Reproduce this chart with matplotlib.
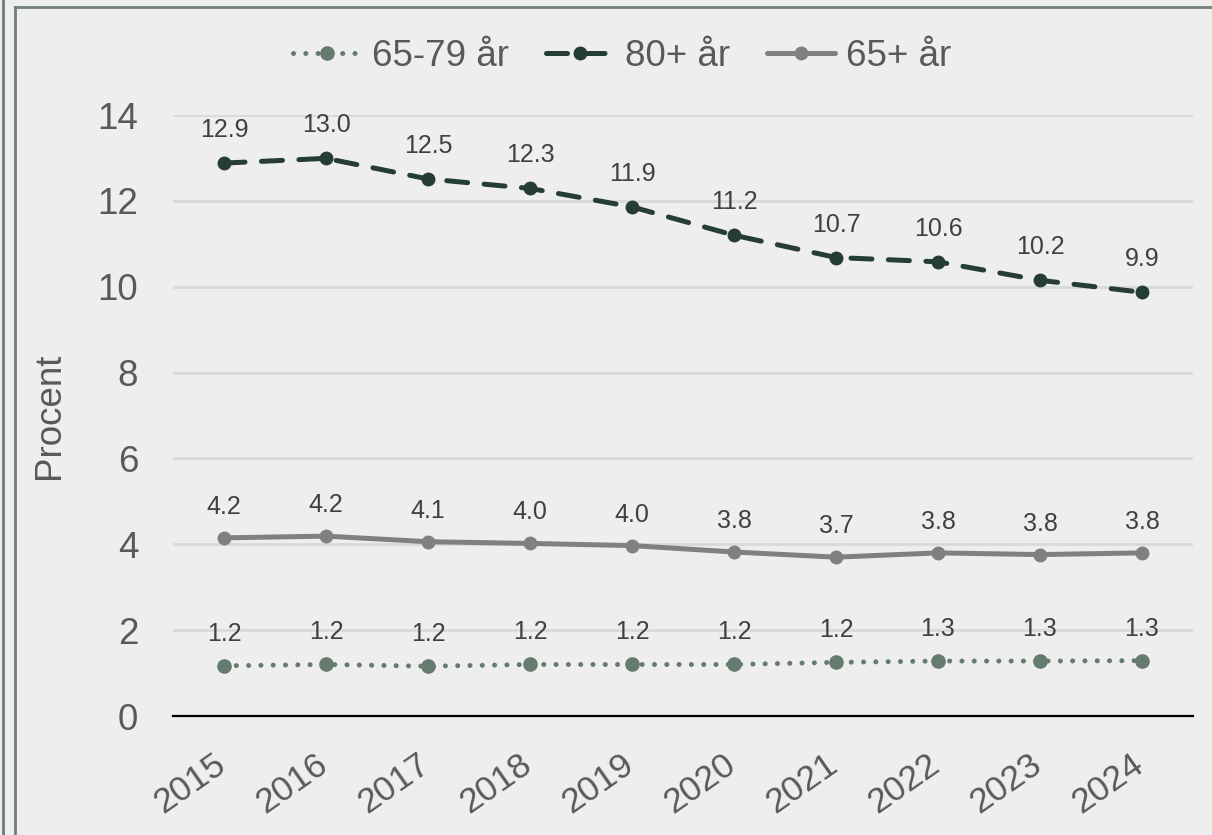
import matplotlib
matplotlib.use("Agg")
import matplotlib.pyplot as plt
import matplotlib.transforms as mtransforms
from matplotlib.lines import Line2D

# Data
years = ["2015", "2016", "2017", "2018", "2019", "2020", "2021", "2022", "2023", "2024"]
age_65_79 = [1.17, 1.20, 1.16, 1.20, 1.20, 1.20, 1.25, 1.28, 1.28, 1.29]
age_80 = [12.88, 12.99, 12.51, 12.29, 11.86, 11.20, 10.68, 10.58, 10.15, 9.87]
age_65 = [4.15, 4.19, 4.06, 4.02, 3.97, 3.82, 3.70, 3.80, 3.76, 3.80]
yticks = [0, 2, 4, 6, 8, 10, 12, 14]

bg = "#EEEEEE"
frame_col = "#6E8078"

plt.rcParams["font.family"] = ["Liberation Sans", "DejaVu Sans"]

fig = plt.figure(figsize=(12.12, 8.35), dpi=100, facecolor=bg)
ax = fig.add_axes([173 / 1212, 1 - 716 / 835, (1193 - 173) / 1212, (716 - 115) / 835])
ax.set_facecolor(bg)

x = list(range(len(years)))

ax.plot(x, age_65_79, color="#647B6E", lw=3.6, linestyle=(0, (0.01, 2.45)),
        dash_capstyle="round", marker="o", markersize=9.5, label="65-79 år", zorder=3)
ax.plot(x, age_80, color="#263D33", lw=3.6, linestyle=(0, (4.2, 3.3)),
        dash_capstyle="round", marker="o", markersize=9, label="80+ år", zorder=3)
ax.plot(x, age_65, color="#808080", lw=3.6, solid_capstyle="round",
        marker="o", markersize=9, label="65+ år", zorder=3)

for series, off in [(age_65_79, 32), (age_80, 33), (age_65, 31)]:
    for xi, v in zip(x, series):
        ax.annotate(f"{v:.1f}", (xi, v), xytext=(0, off), textcoords="offset pixels",
                    ha="center", va="center", fontsize=18, color="#404040")

ax.set_xlim(-0.5, 9.5)
ax.set_ylim(0, 14)
ax.set_yticks(yticks)
ax.set_xticks(x)
ax.set_xticklabels(years, rotation=35, ha="right", rotation_mode="anchor")
ax.grid(axis="y", color="#D9D9D9", lw=2)
ax.set_axisbelow(True)
for s in ["top", "right", "left"]:
    ax.spines[s].set_visible(False)
ax.spines["bottom"].set_color("#000000")
ax.spines["bottom"].set_linewidth(1.6)
ax.tick_params(axis="y", length=0, pad=25, labelsize=26.5, labelcolor="#595959")
ax.tick_params(axis="x", length=0, pad=23, labelsize=25.5, labelcolor="#595959")
ax.set_ylabel("Procent", fontsize=26.5, color="#595959", labelpad=22)

# nudge the rotated year labels left
shift = mtransforms.ScaledTranslation(-11 / 100, 0, fig.dpi_scale_trans)
for lab in ax.get_xticklabels():
    lab.set_transform(lab.get_transform() + shift)

leg = ax.legend(loc="center", bbox_to_anchor=(622 / 1212, (835 - 56) / 835), bbox_transform=fig.transFigure,
                ncol=3, frameon=False, fontsize=26.5, handlelength=1.85, handletextpad=0.3,
                columnspacing=1.0, labelcolor="#595959", borderpad=0, borderaxespad=0)

# outer frame lines
fig.add_artist(Line2D([3 / 1212, 3 / 1212], [0, 1], color=frame_col, lw=2))
fig.add_artist(Line2D([15 / 1212, 15 / 1212], [0, 1 - 7 / 835], color=frame_col, lw=2))
fig.add_artist(Line2D([15 / 1212, 1], [1 - 7 / 835, 1 - 7 / 835], color=frame_col, lw=2))

fig.savefig("out.png", dpi=100, facecolor=bg)
